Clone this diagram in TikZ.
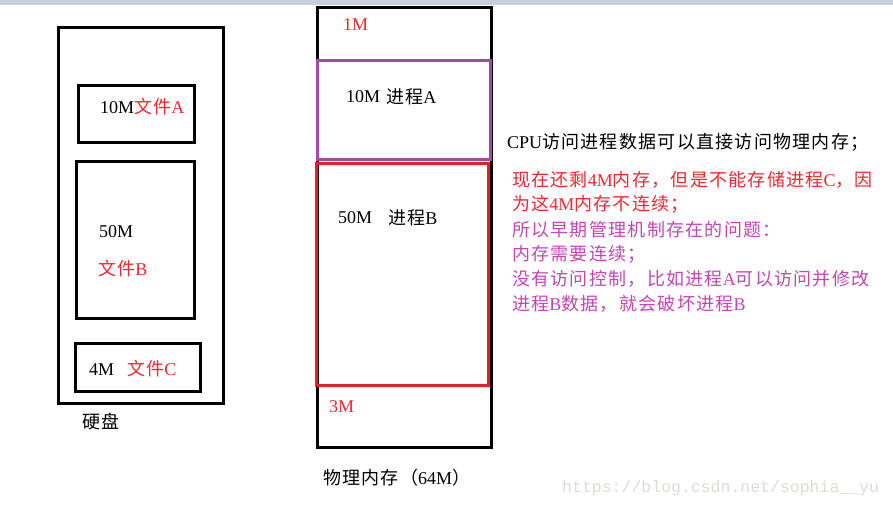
\documentclass[tikz,border=0pt]{standalone}
\usepackage{fontspec}
\setmainfont{Liberation Serif}
\newfontfamily\cjk[LetterSpace=7]{Noto Sans CJK SC}
\newfontfamily\wmfont{Liberation Mono}
\definecolor{txtred}{RGB}{240,40,50}
\definecolor{boxpurple}{RGB}{160,75,165}
\definecolor{boxred}{RGB}{237,28,36}
\definecolor{txtpink}{RGB}{195,70,180}
\definecolor{topbar}{RGB}{200,206,220}
\definecolor{wmgray}{RGB}{220,220,214}
\tikzset{
  lbl/.style={inner sep=0pt, anchor=west, font=\fontsize{18}{20}\selectfont},
  blk/.style={line width=3pt, draw=black},
}
\begin{document}
\begin{tikzpicture}[x=1pt,y=-1pt]
\useasboundingbox (0,0) rectangle (893,508);
\fill[white] (0,0) rectangle (893,508);
\fill[topbar] (0,0) rectangle (893,5);
% disk
\draw[blk] (58.5,28) rectangle (223,403);
\draw[blk] (78,86) rectangle (194,142);
\draw[blk] (76,161) rectangle (194,318);
\draw[blk] (75,343) rectangle (200,391);
\node[lbl] (fa) at (100,107) {10M\textcolor{txtred}{{\cjk 文件}A}};
\node[lbl] (fbsize) at (99,232) {50M};
\node[lbl, text=txtred] (fb) at (98,269) {{\cjk 文件}B};
\node[lbl] (fcsize) at (89,370) {4M};
\node[lbl, text=txtred] (fc) at (127,369) {{\cjk 文件}C};
\node[lbl] (disk) at (82,422) {\cjk 硬盘};
% memory
\draw[blk] (317,8) rectangle (491,447);
\draw[line width=3pt, boxpurple] (317,61) rectangle (490,159);
\draw[line width=3pt, boxred] (316,163) rectangle (488,385);
\node[lbl, text=txtred] (m1) at (343,25) {1M};
\node[lbl] (pasize) at (346,97) {10M};
\node[lbl] (pa) at (386,97) {{\cjk 进程}A};
\node[lbl] (pbsize) at (338,218) {50M};
\node[lbl] (pb) at (388,218) {{\cjk 进程}B};
\node[lbl, text=txtred] (m3) at (329,407) {3M};
\node[lbl] (mem) at (323,478) {{\cjk 物理内存（}64M{\cjk ）}};
% notes
\node[lbl] (n0) at (507,142) {CPU{\cjk 访问进程数据可以直接访问物理内存；}};
\node[lbl, text=txtred] (n1) at (512,180) {{\cjk 现在还剩}4M{\cjk 内存，但是不能存储进程}C{\cjk ，因}};
\node[lbl, text=txtred] (n2) at (512,204.7) {{\cjk 为这}4M{\cjk 内存不连续；}};
\node[lbl, text=txtpink] (n3) at (512,229.4) {\cjk 所以早期管理机制存在的问题：};
\node[lbl, text=txtpink] (n4) at (512,254.1) {\cjk 内存需要连续；};
\node[lbl, text=txtpink] (n5) at (512,278.8) {{\cjk 没有访问控制，比如进程}A{\cjk 可以访问并修改}};
\node[lbl, text=txtpink] (n6) at (512,303.5) {{\cjk 进程}B{\cjk 数据，就会破坏进程}B};
% watermark
\node[inner sep=0pt, anchor=west, text=wmgray, font=\wmfont\fontsize{16.5}{18}\selectfont] (wm) at (562,488) {https://blog.csdn.net/sophia\_\_yu};
\end{tikzpicture}
\end{document}
